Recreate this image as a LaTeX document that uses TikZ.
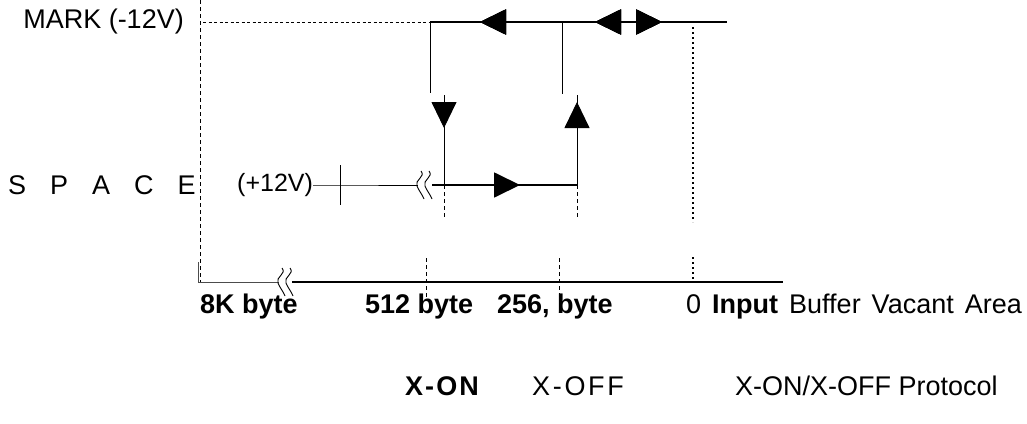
\documentclass[tikz,border=0pt]{standalone}
\usepackage{fontspec}
\setmainfont{Liberation Sans}
\usetikzlibrary{arrows.meta,positioning,calc,decorations.markings}

\tikzset{
  sig/.style={line width=1.8pt},
  leg/.style={line width=0.9pt},
  guide/.style={line width=0.7pt,dash pattern=on 4pt off 3pt},
  zeroline/.style={line width=1.8pt,dash pattern=on 2pt off 3pt},
  lbl/.style={inner sep=0pt,font=\fontsize{27}{31}\selectfont},
  blbl/.style={lbl,font=\fontsize{27}{31}\selectfont\bfseries},
  fwd/.style={postaction={decorate},decoration={markings,
      mark=at position #1 with {\arrow{Triangle[length=26pt,width=25pt]}}}},
  bwd/.style={postaction={decorate},decoration={markings,
      mark=at position #1 with {\arrowreversed{Triangle[length=26pt,width=25pt]}}}},
  brk/.pic={\draw[leg] (1,-14) .. controls (6,-8) and (-6,-5) .. (-3,1)
      .. controls (-1,6) and (2,9) .. (4,14);}
}

\begin{document}
\begin{tikzpicture}[x=1pt,y=-1pt]
  \useasboundingbox (0,0) rectangle (1027,423);

  % levels
  \node[lbl,anchor=east] (mark) at (184,22) {MARK (-12V)};
  \node[lbl,anchor=west] (space) at (8,185) {\spaceskip=24pt S P A C E};
  \node[lbl,anchor=west,font=\fontsize{25}{29}\selectfont] (plus) at (237,185) {(+12V)};

  \coordinate (top) at (200,0);
  \coordinate (mk0) at (203,22);
  \coordinate (mkA) at (430,22);
  \coordinate (mkB) at (562,22);
  \coordinate (mkE) at (727,22);
  \coordinate (dnA) at (430,93);
  \coordinate (dnB) at (562,94);
  \coordinate (on0) at (444,95);
  \coordinate (on1) at (444,185);
  \coordinate (off0) at (577,95);
  \coordinate (off1) at (577,185);
  \coordinate (tick) at (340,185);

  % MARK line
  \draw[guide] (top) -- (200,282);
  \draw[line width=0.8pt,dash pattern=on 3pt off 2.5pt] (mk0) -- (mkA);
  \draw[sig,bwd=50pt,bwd=165pt,fwd=232pt] (mkA) -- (mkE);
  \draw[leg] (mkA) -- (dnA);
  \draw[leg] (mkB) -- (dnB);

  % transitions
  \draw[leg,fwd=33pt] (on0) -- (on1);
  \draw[leg,fwd=83pt] (off1) -- (off0);

  % SPACE line
  \draw[leg] (plus.east) -- (tick) -- (418,185);
  \draw[leg] (340,165) -- (340,205);
  \pic at (420,185) {brk};
  \pic at (428,185) {brk};
  \draw[sig,fwd=88pt] (432,185) -- (off1);

  \draw[guide] (on1) -- (444,217);
  \draw[guide] (off1) -- (577,217);
  \draw[zeroline] (693,27) -- (693,222);
  \draw[zeroline] (693,257) -- (693,282);

  % buffer axis
  \coordinate (ax0) at (198,282);
  \coordinate (ax1) at (783,282);
  \draw[leg,black!70] (198,262) -- (ax0) -- (279,282);
  \pic at (281,282) {brk};
  \pic at (289,282) {brk};
  \draw[sig] (292,282) -- (ax1);
  \draw[guide] (426,258) -- (426,300);
  \draw[guide] (559,258) -- (559,300);

  \node[blbl,anchor=west] (k8) at (200,307) {8K byte};
  \node[blbl,anchor=west] (b512) at (365,307) {512 byte};
  \node[blbl,anchor=west] (b256) at (497,307) {256, byte};
  \node[lbl,anchor=west] (vac) at (686,307)
    {\spaceskip=11pt 0 \textbf{Input} Buffer Vacant Area};

  % protocol
  \node[blbl] (xon) at (442,386) {\addfontfeatures{LetterSpace=8}X-ON};
  \node[lbl] (xoff) at (578,386) {\addfontfeatures{LetterSpace=10}X-OFF};
  \node[lbl,anchor=west] (proto) at (735,386) {X-ON/X-OFF Protocol};
\end{tikzpicture}
\end{document}
